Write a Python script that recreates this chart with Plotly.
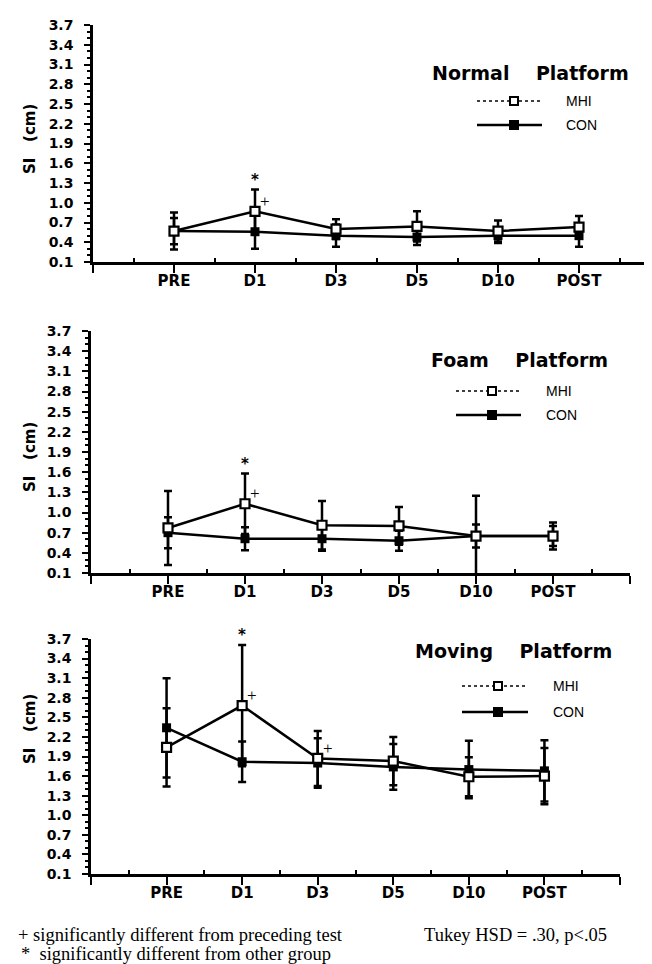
import plotly.graph_objects as go

# ---------------- data ----------------
categories = ["PRE", "D1", "D3", "D5", "D10", "POST"]

normal_mhi = [0.57, 0.87, 0.60, 0.64, 0.57, 0.63]
normal_mhi_err = [0.28, 0.33, 0.15, 0.23, 0.16, 0.17]
normal_con = [0.57, 0.56, 0.50, 0.48, 0.50, 0.50]
normal_con_err = [0.20, 0.26, 0.17, 0.12, 0.11, 0.17]

foam_mhi = [0.77, 1.13, 0.81, 0.80, 0.65, 0.65]
foam_mhi_err = [0.55, 0.45, 0.36, 0.28, 0.60, 0.20]
foam_con = [0.70, 0.61, 0.61, 0.58, 0.65, 0.65]
foam_con_err = [0.23, 0.17, 0.18, 0.15, 0.17, 0.15]

moving_mhi = [2.04, 2.68, 1.87, 1.83, 1.59, 1.60]
moving_mhi_err = [0.60, 0.93, 0.42, 0.37, 0.30, 0.43]
moving_con = [2.34, 1.82, 1.80, 1.74, 1.70, 1.68]
moving_con_err = [0.76, 0.31, 0.38, 0.35, 0.44, 0.47]

y_ticks = [0.1, 0.4, 0.7, 1.0, 1.3, 1.6, 1.9, 2.2, 2.5, 2.8, 3.1, 3.4, 3.7]
y_ticktext = ["0.1", "0.4", "0.7", "1.0", "1.3", "1.6", "1.9", "2.2", "2.5", "2.8", "3.1", "3.4", "3.7"]

panel_titles = ["Normal", "Foam", "Moving"]
series_names = ["MHI", "CON"]
# significance marks: "+" different from preceding test, "*" different from other group
sig_preceding = [["D1"], ["D1"], ["D1", "D3"]]
sig_group = [["D1"], ["D1"], ["D1"]]

# ---------------- layout helpers ----------------
W, H = 652, 964


def px(x):
    return x / W


def py(y):
    return 1 - y / H


panels = [
    dict(mhi=normal_mhi, mhi_err=normal_mhi_err, con=normal_con, con_err=normal_con_err,
         xdom=(85, 652), ydom=(17, 254), ytitle=131, title_c=522, title_y=65,
         leg_x=(469, 534), leg_mk=506, leg_y=(93, 117), leg_tx=556),
    dict(mhi=foam_mhi, mhi_err=foam_mhi_err, con=foam_con, con_err=foam_con_err,
         xdom=(83, 622), ydom=(323, 565), ytitle=449, title_c=511, title_y=352,
         leg_x=(448, 513), leg_mk=484, leg_y=(383, 407), leg_tx=536),
    dict(mhi=moving_mhi, mhi_err=moving_mhi_err, con=moving_con, con_err=moving_con_err,
         xdom=(83, 612), ydom=(631, 866), ytitle=721, title_c=505, title_y=643,
         leg_x=(454, 520), leg_mk=490, leg_y=(678, 704), leg_tx=543),
]

fig = go.Figure()
xs = list(range(len(categories)))
shapes = []
annotations = []

bold_sans = dict(family="DejaVu Sans", color="black", weight="bold")

for i, p in enumerate(panels):
    n = "" if i == 0 else str(i + 1)
    xa, ya = "x" + n, "y" + n
    # CON: filled squares, MHI: open squares
    fig.add_trace(go.Scatter(
        x=xs, y=p["con"], xaxis=xa, yaxis=ya, mode="lines+markers", name="CON",
        showlegend=False,
        line=dict(color="black", width=2.5),
        marker=dict(symbol="square", size=9, color="black"),
        error_y=dict(type="data", array=p["con_err"], color="black", thickness=2.5, width=4),
    ))
    fig.add_trace(go.Scatter(
        x=xs, y=p["mhi"], xaxis=xa, yaxis=ya, mode="lines+markers", name="MHI",
        showlegend=False,
        line=dict(color="black", width=2.5),
        marker=dict(symbol="square", size=9, color="white", line=dict(color="black", width=2.2)),
        error_y=dict(type="data", array=p["mhi_err"], color="black", thickness=2.5, width=4),
    ))

    fig.layout["xaxis" + n] = dict(
        domain=[px(p["xdom"][0]), px(p["xdom"][1])],
        anchor=ya, range=[-1, len(categories)],
        tickmode="array", tickvals=[-1] + xs + [len(categories)],
        ticktext=[""] + categories + [""],
        ticks="outside", ticklen=8, tickwidth=1.5, tickcolor="black",
        ticklabelstandoff=-5,
        tickfont=dict(size=15, **bold_sans),
        minor=dict(ticks="inside", tick0=-0.5, dtick=1, ticklen=4, tickwidth=2, tickcolor="black"),
        showline=True, linecolor="black", linewidth=2.5,
        showgrid=False, zeroline=False, automargin=False, fixedrange=True,
    )
    fig.layout["yaxis" + n] = dict(
        domain=[py(p["ydom"][1]), py(p["ydom"][0])],
        anchor=xa, range=[0.1, 3.7],
        tickmode="array", tickvals=y_ticks, ticktext=y_ticktext,
        ticks="outside", ticklen=6, tickwidth=2, tickcolor="black",
        ticklabelstandoff=8,
        tickfont=dict(size=14, **bold_sans),
        minor=dict(ticks="outside", dtick=0.1, tick0=0.1, ticklen=3, tickwidth=1.5, tickcolor="black"),
        showline=True, linecolor="black", linewidth=2.5,
        showgrid=False, zeroline=False, automargin=False, fixedrange=True,
    )

    # y-axis title
    annotations.append(dict(
        x=px(22), y=py(p["ytitle"]), xref="paper", yref="paper",
        text="SI\u00a0\u00a0\u00a0(cm)", textangle=-90, showarrow=False,
        font=dict(size=15, **bold_sans), xanchor="center", yanchor="middle",
    ))
    # panel title
    annotations.append(dict(
        x=px(p["title_c"]), y=py(p["title_y"]), xref="paper", yref="paper",
        text=panel_titles[i] + "\u00a0\u00a0\u00a0\u00a0Platform", showarrow=False,
        font=dict(size=19, **bold_sans), xanchor="center", yanchor="middle",
    ))
    # legend (drawn)
    for k, name in enumerate(series_names):
        ly = p["leg_y"][k]
        shapes.append(dict(
            type="line", xref="paper", yref="paper",
            x0=px(p["leg_x"][0]), x1=px(p["leg_x"][1]), y0=py(ly), y1=py(ly),
            line=dict(color="black", width=1.5 if name == "MHI" else 2.5,
                      dash="dot" if name == "MHI" else "solid"),
        ))
        shapes.append(dict(
            type="rect", xref="paper", yref="paper",
            x0=px(p["leg_mk"] - 4), x1=px(p["leg_mk"] + 4), y0=py(ly + 4), y1=py(ly - 4),
            line=dict(color="black", width=2),
            fillcolor="white" if name == "MHI" else "black",
        ))
        annotations.append(dict(
            x=px(p["leg_tx"]), y=py(ly), xref="paper", yref="paper",
            text=name, showarrow=False, xanchor="left", yanchor="middle",
            font=dict(family="Liberation Sans", size=14, color="black"),
        ))

    # significance marks
    for c in sig_group[i]:
        j = categories.index(c)
        annotations.append(dict(
            x=j, y=p["mhi"][j] + p["mhi_err"][j], xref=xa, yref=ya,
            text="*", showarrow=False, yshift=10, xanchor="center", yanchor="middle",
            font=dict(family="DejaVu Sans", size=15, color="black", weight="bold"),
        ))
    for c in sig_preceding[i]:
        j = categories.index(c)
        annotations.append(dict(
            x=j, y=p["mhi"][j], xref=xa, yref=ya,
            text="+", showarrow=False, xshift=10, yshift=10, xanchor="center", yanchor="middle",
            font=dict(family="Liberation Serif", size=17, color="black"),
        ))

# footnotes
serif = dict(family="Liberation Serif", size=18.5, color="black")
annotations.append(dict(x=px(8), y=py(927), xref="paper", yref="paper", showarrow=False,
                        xanchor="left", yanchor="middle", font=serif,
                        text="+ significantly different from preceding test"))
annotations.append(dict(x=px(11), y=py(946), xref="paper", yref="paper", showarrow=False,
                        xanchor="left", yanchor="middle", font=serif,
                        text="*\u00a0\u00a0significantly different from other group"))
annotations.append(dict(x=px(414), y=py(927), xref="paper", yref="paper", showarrow=False,
                        xanchor="left", yanchor="middle", font=serif,
                        text="Tukey HSD = .30, p<.05"))

fig.update_layout(
    width=W, height=H,
    margin=dict(l=0, r=0, t=0, b=0),
    paper_bgcolor="white", plot_bgcolor="white",
    showlegend=False,
    shapes=shapes, annotations=annotations,
)

fig.write_html("out.html")
